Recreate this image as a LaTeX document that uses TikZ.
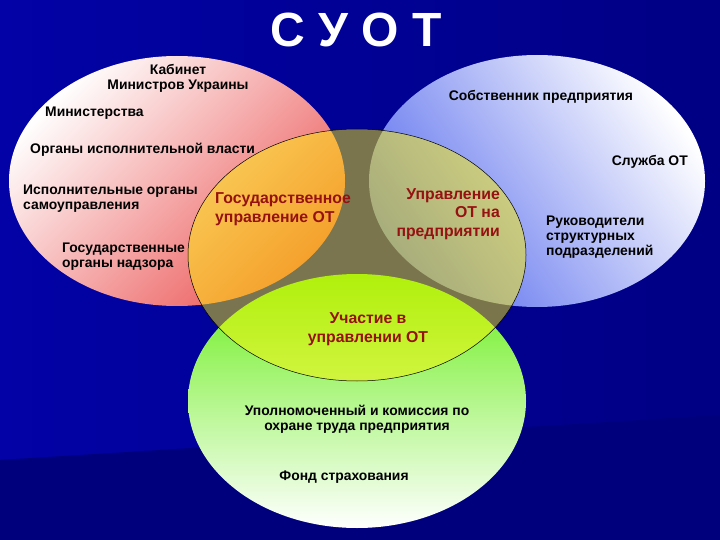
\documentclass[tikz,border=0pt]{standalone}
\usepackage{fontspec}
\setmainfont{Liberation Sans}

\definecolor{bgleft}{RGB}{2,2,166}
\definecolor{bgright}{RGB}{0,0,132}
\definecolor{navy}{RGB}{0,0,124}
\definecolor{pinkred}{RGB}{236,88,88}
\definecolor{midblue}{RGB}{92,112,238}
\definecolor{lgreen}{RGB}{104,238,24}
\definecolor{palegreen}{RGB}{190,248,160}
\definecolor{keyred}{RGB}{150,18,18}
\definecolor{overlay}{RGB}{255,244,0}

\tikzset{
  txt/.style={font=\bfseries\fontsize{13.9}{15}\selectfont, text=black, inner sep=0pt},
  keytxt/.style={font=\bfseries\fontsize{15.8}{18.5}\selectfont, text=keyred, inner sep=0pt},
  heading/.style={font=\bfseries\fontsize{48}{48}\selectfont, text=white, inner sep=0pt}
}

\begin{document}
\begin{tikzpicture}[x=1pt,y=1pt]
  \useasboundingbox (0,0) rectangle (720,-540);
  % background
  \shade[left color=bgleft, right color=bgright] (0,0) rectangle (720,-540);
  \fill[navy] (0,-540) -- (0,-460) -- (720,-415) -- (720,-540) -- cycle;

  % the three areas and the common one
  \shade[top color=white, bottom color=pinkred, shading angle=45] (177,-181) ellipse [x radius=168, y radius=125];
  \shade[top color=white, bottom color=midblue, shading angle=-55] (537,-181) ellipse [x radius=168, y radius=126];
  \shade[top color=lgreen, middle color=palegreen, bottom color=white] (357,-401) ellipse [x radius=169, y radius=127];
  \filldraw[fill=overlay, fill opacity=0.48, draw=black, line width=0.5pt] (357,-255) ellipse [x radius=169, y radius=126];

  \node[heading] (suot) at (356,-30) {С У О Т};

  % state
  \node[txt, align=center] (kab) at (178,-78) {Кабинет\\Министров Украины};
  \node[txt, anchor=west] (min) at (45,-113) {Министерства};
  \node[txt, anchor=west] (org) at (30,-150) {Органы исполнительной власти};
  \node[txt, anchor=west, align=left] (isp) at (23,-199) {Исполнительные органы\\самоуправления};
  \node[txt, anchor=west, align=left] (nadz) at (62,-257) {Государственные\\органы надзора};
  \node[keytxt, anchor=west, align=left] (gosup) at (215,-209) {Государственное\\управление ОТ};

  % enterprise
  \node[txt] (sob) at (541,-97) {Собственник предприятия};
  \node[txt, anchor=east] (sluzh) at (688,-162) {Служба ОТ};
  \node[txt, anchor=west, align=left] (ruk) at (546,-237) {Руководители\\структурных\\подразделений};
  \node[keytxt, anchor=east, align=right] (upr) at (500,-214) {Управление\\ОТ на\\предприятии};

  % workers
  \node[keytxt, align=center] (uch) at (368,-329) {Участие в\\управлении ОТ};
  \node[txt, align=center] (upol) at (357,-419) {Уполномоченный и комиссия по\\охране труда предприятия};
  \node[txt] (fond) at (344,-477) {Фонд страхования};
\end{tikzpicture}
\end{document}
